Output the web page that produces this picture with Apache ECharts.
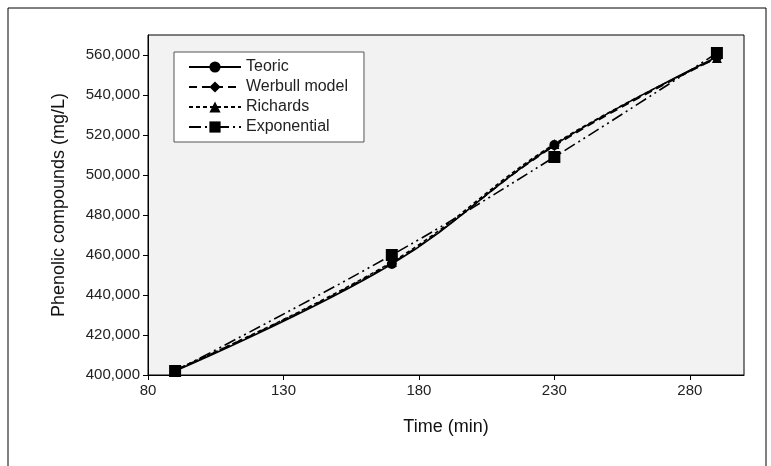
<!DOCTYPE html>
<html>
<head>
<meta charset="utf-8">
<script src="https://cdn.jsdelivr.net/npm/echarts@6/dist/echarts.min.js"></script>
<style>
  html, body { margin: 0; padding: 0; background: #fff; }
  #chart { width: 771px; height: 466px; }
</style>
</head>
<body>
<div id="chart"></div>
<script>
// time points (min)
const times = [90, 170, 230, 290]
const teoric = [402000, 455500, 515000, 559000]
const werbull = [402500, 456000, 514500, 558500]
const richards = [402500, 456500, 515500, 558500]
const exponential = [402000, 460000, 509000, 561000]
const xTicks = [80, 130, 180, 230, 280]
const yTicks = [400000, 420000, 440000, 460000, 480000, 500000, 520000, 540000, 560000]

const chart = echarts.init(document.getElementById('chart'))
const FONT = 'Liberation Sans, Arial, sans-serif'

function pairs (vals) {
  return times.map((t, i) => [t, vals[i]])
}

function line (name, vals, symbol, size, dash) {
  return {
    name: name,
    type: 'line',
    smooth: 0.4,
    data: pairs(vals),
    symbol: symbol,
    symbolSize: size,
    itemStyle: { color: '#000' },
    lineStyle: { color: '#000', width: 1.6, type: dash },
    emphasis: { disabled: true }
  }
}

const option = {
  animation: false,
  textStyle: { fontFamily: FONT },
  graphic: [{
    type: 'rect',
    shape: { x: 8, y: 8, width: 758, height: 480 },
    style: { fill: 'none', stroke: '#000', lineWidth: 1 },
    silent: true
  }],
  grid: {
    left: 148, top: 35, right: 27, bottom: 91,
    show: true, backgroundColor: '#f2f2f2', borderColor: '#000', borderWidth: 1
  },
  legend: {
    orient: 'vertical',
    left: 174, top: 52,
    backgroundColor: '#fff',
    borderColor: '#555', borderWidth: 1,
    padding: [7, 16, 7, 14],
    itemGap: 4,
    itemWidth: 52, itemHeight: 14,
    textStyle: { fontSize: 16, color: '#222', fontFamily: FONT },
    data: ['Teoric', 'Werbull model', 'Richards', 'Exponential']
  },
  xAxis: {
    type: 'value',
    min: 80, max: 300,
    name: 'Time (min)',
    nameLocation: 'middle',
    nameGap: 43,
    nameTextStyle: { fontSize: 18, color: '#111' },
    splitLine: { show: false },
    axisLine: { lineStyle: { color: '#000' } },
    axisTick: { length: 5, lineStyle: { color: '#000' }, customValues: xTicks },
    axisLabel: { fontSize: 15, color: '#222', margin: 8, customValues: xTicks }
  },
  yAxis: {
    type: 'value',
    min: 400000, max: 570000, interval: 20000,
    name: 'Phenolic compounds (mg/L)',
    nameLocation: 'middle',
    nameGap: 80,
    nameTextStyle: { fontSize: 18, color: '#111' },
    splitLine: { show: false },
    axisLine: { show: true, lineStyle: { color: '#000' } },
    axisTick: { show: true, length: 5, lineStyle: { color: '#000' }, customValues: yTicks },
    axisLabel: {
      fontSize: 15, color: '#222', margin: 8, customValues: yTicks,
      formatter: v => v.toLocaleString('en-US')
    }
  },
  series: [
    line('Teoric', teoric, 'circle', 10, 'solid'),
    line('Werbull model', werbull, 'diamond', 10, [8, 5]),
    line('Richards', richards, 'triangle', 10, [4, 3]),
    line('Exponential', exponential, 'rect', 12, [12, 4, 2, 4, 2, 4])
  ]
}
chart.setOption(option)
</script>
</body>
</html>
